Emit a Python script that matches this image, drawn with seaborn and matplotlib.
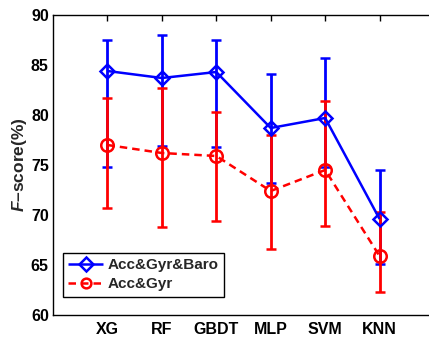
import matplotlib
matplotlib.use("Agg")
import matplotlib.pyplot as plt
import seaborn as sns
import numpy as np
import pandas as pd

categories = ["XG", "RF", "GBDT", "MLP", "SVM", "KNN"]
baro_mean = [84.4, 83.7, 84.3, 78.7, 79.7, 69.6]
baro_upper = [87.5, 88.0, 87.5, 84.1, 85.7, 74.5]
baro_lower = [74.8, 76.9, 76.8, 73.2, 74.8, 65.1]
gyr_mean = [77.0, 76.2, 75.9, 72.4, 74.5, 65.9]
gyr_upper = [81.7, 82.7, 80.3, 78.0, 81.4, 70.3]
gyr_lower = [70.7, 68.8, 69.4, 66.6, 68.9, 62.3]
series_names = ["Acc&Gyr&Baro", "Acc&Gyr"]

sns.set_style("white")
plt.rcParams['font.family'] = ['Liberation Sans', 'DejaVu Sans']
plt.rcParams['font.weight'] = 'bold'
plt.rcParams['mathtext.fontset'] = 'custom'
plt.rcParams['mathtext.it'] = 'Liberation Sans:italic:bold'
plt.rcParams['mathtext.rm'] = 'Liberation Sans:bold'

fig = plt.figure(figsize=(4.29, 3.37), dpi=100)
ax = fig.add_axes([53/429, 22/337, (434-53)/429, 300/337])

pos = np.arange(1, len(categories) + 1)
df = pd.DataFrame({
    "x": np.concatenate([pos, pos]),
    "y": baro_mean + gyr_mean,
    "s": [series_names[0]] * 6 + [series_names[1]] * 6,
})

ax.errorbar(pos, baro_mean,
            yerr=[np.array(baro_mean) - np.array(baro_lower), np.array(baro_upper) - np.array(baro_mean)],
            fmt='none', ecolor='#0000ff', elinewidth=2, capsize=3.5, capthick=1.8, zorder=2)
ax.errorbar(pos, gyr_mean,
            yerr=[np.array(gyr_mean) - np.array(gyr_lower), np.array(gyr_upper) - np.array(gyr_mean)],
            fmt='none', ecolor='#ff0000', elinewidth=2, capsize=3.5, capthick=1.8, zorder=3)

sns.lineplot(data=df, x="x", y="y", hue="s", style="s",
             palette={series_names[0]: '#0000ff', series_names[1]: '#ff0000'},
             dashes={series_names[0]: (1, 0), series_names[1]: (3, 2)},
             markers={series_names[0]: 'D', series_names[1]: 'o'},
             markersize=8, markerfacecolor='none', markeredgewidth=1.8,
             linewidth=1.8, ax=ax, zorder=4)
for l in ax.lines:
    l.set_markerfacecolor('none')
    if l.get_marker() == 'D':
        l.set_markeredgecolor('#0000ff')
        l.set_markersize(7.5)
    elif l.get_marker() == 'o':
        l.set_markeredgecolor('#ff0000')
        l.set_markersize(9)

ax.set_xlim(0, 7)
ax.set_ylim(60, 90)
ax.set_xticks(pos)
ax.set_xticklabels(categories, fontsize=11.5, fontweight='bold')
ax.set_yticks([60, 65, 70, 75, 80, 85, 90])
ax.set_yticklabels(["60", "65", "70", "75", "80", "85", "90"], fontsize=11.5, fontweight='bold')
ax.tick_params(direction='in', length=4, width=1, top=True, right=False, colors='black')
ax.tick_params(axis='x', pad=5)
ax.tick_params(axis='y', pad=3)
ax.set_xlabel("")
ax.set_ylabel("$F$–score(%)", fontsize=12.5, fontweight='bold', labelpad=1)
for name, sp in ax.spines.items():
    sp.set_visible(name != 'right')
    sp.set_color('black')
    sp.set_linewidth(1)

handles, labels = ax.get_legend_handles_labels()
for h in handles:
    h.set_markerfacecolor('none')
    h.set_markeredgewidth(1.8)
    h.set_markersize(7)
leg = ax.legend(handles, labels, loc='lower left', bbox_to_anchor=(0.026, 0.061),
                fontsize=11, frameon=True, fancybox=False, edgecolor='black',
                framealpha=1, handlelength=2.3, borderpad=0.35, labelspacing=0.35,
                handletextpad=0.3, borderaxespad=0)
leg.get_frame().set_linewidth(1)
for t in leg.get_texts():
    t.set_fontweight('bold')

fig.savefig("out.png", dpi=100)
